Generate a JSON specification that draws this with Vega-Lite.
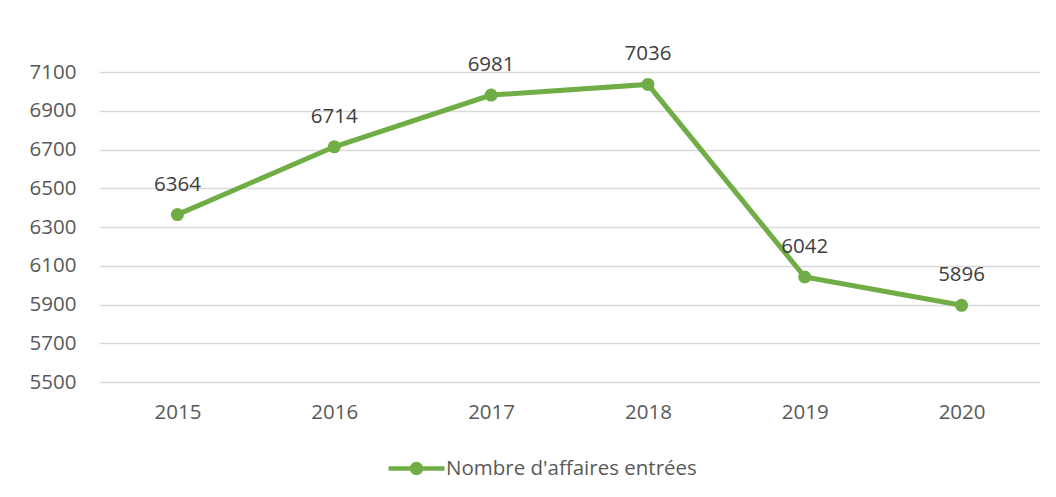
{
  "$schema": "https://vega.github.io/schema/vega-lite/v6.json",
  "width": 941,
  "height": 310,
  "autosize": {"type": "none"},
  "padding": {"left": 99, "top": 72, "right": 16, "bottom": 115},
  "background": "white",
  "config": {
    "view": {"stroke": null},
    "font": "Open Sans"
  },
  "data": {
    "values": [
      {"annee": "2015", "serie": "Nombre d'affaires entrées", "valeur": 6364},
      {"annee": "2016", "serie": "Nombre d'affaires entrées", "valeur": 6714},
      {"annee": "2017", "serie": "Nombre d'affaires entrées", "valeur": 6981},
      {"annee": "2018", "serie": "Nombre d'affaires entrées", "valeur": 7036},
      {"annee": "2019", "serie": "Nombre d'affaires entrées", "valeur": 6042},
      {"annee": "2020", "serie": "Nombre d'affaires entrées", "valeur": 5896}
    ]
  },
  "encoding": {
    "x": {
      "field": "annee", "type": "ordinal",
      "scale": {"type": "point", "padding": 0.5},
      "axis": {"title": null, "labelAngle": 0, "domain": false, "ticks": false, "grid": false,
               "labelFontSize": 20.5, "labelColor": "#595959", "labelPadding": 20}
    },
    "y": {
      "field": "valeur", "type": "quantitative",
      "scale": {"domain": [5500, 7100], "nice": false, "zero": false},
      "axis": {"title": null, "values": [5500, 5700, 5900, 6100, 6300, 6500, 6700, 6900, 7100],
               "format": "d",
               "domain": false, "ticks": false, "gridColor": "#d9d9d9", "gridWidth": 1.5,
               "labelFontSize": 20.5, "labelColor": "#595959", "labelPadding": 23}
    }
  },
  "layer": [
    {
      "mark": {"type": "line", "strokeWidth": 5, "color": "#70AD47",
               "point": {"filled": true, "size": 170, "color": "#70AD47"}},
      "encoding": {
        "color": {
          "field": "serie", "type": "nominal",
          "scale": {"range": ["#70AD47"]},
          "legend": {
            "title": null, "orient": "none", "legendX": 301, "legendY": 380,
            "padding": 0, "labelLimit": 400,
            "symbolType": "M -2 0 L 2 0 M 0.32 0 A 0.32 0.32 0 1 1 -0.32 0 A 0.32 0.32 0 1 1 0.32 0",
            "symbolSize": 784, "symbolStrokeWidth": 4.5, "symbolStrokeColor": "#70AD47",
            "symbolFillColor": "#70AD47", "symbolOffset": 0,
            "labelFontSize": 20.5, "labelColor": "#595959", "labelOffset": 13
          }
        }
      }
    },
    {
      "mark": {"type": "text", "baseline": "alphabetic", "dy": -24, "fontSize": 20.5, "color": "#404040"},
      "encoding": {"text": {"field": "valeur", "type": "quantitative", "format": "d"}}
    }
  ]
}
